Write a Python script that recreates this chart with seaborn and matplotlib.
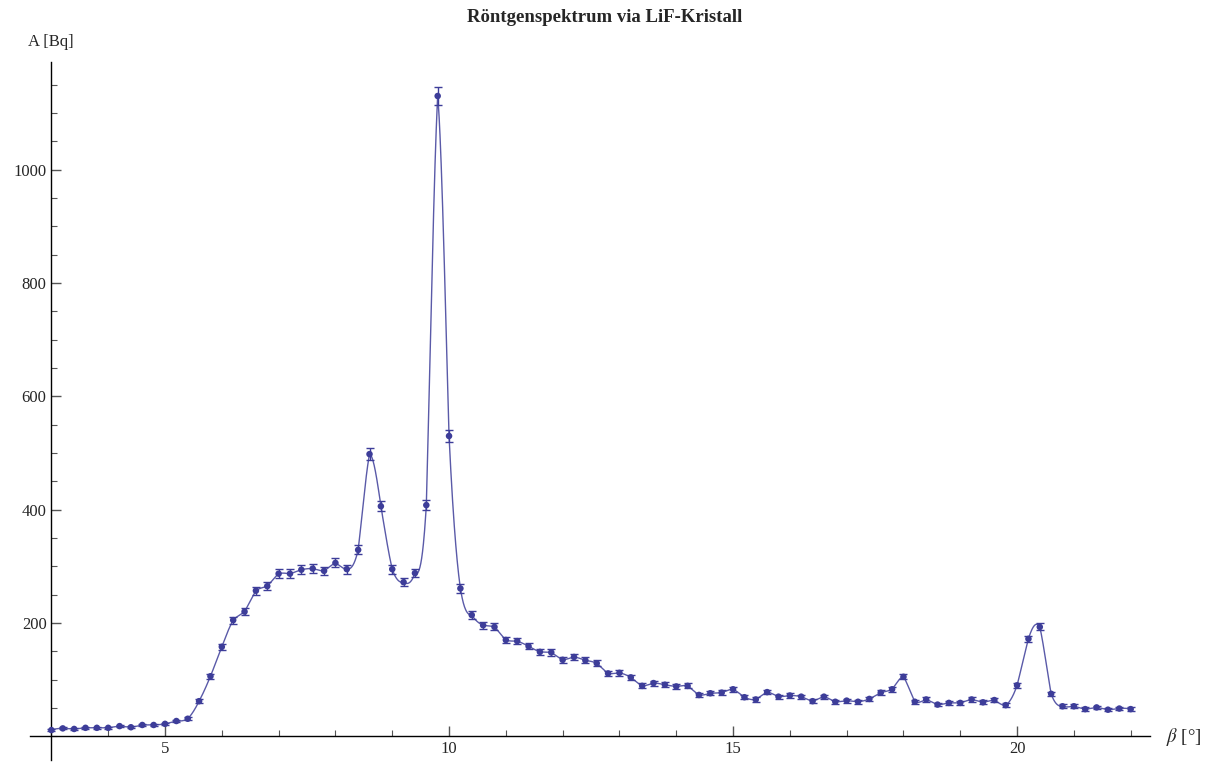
import numpy as np
import pandas as pd
import seaborn as sns
import matplotlib
matplotlib.use("Agg")
import matplotlib.pyplot as plt
from matplotlib.ticker import MultipleLocator

beta = np.round(np.arange(3.0, 22.01, 0.2), 1)
activity = [11, 14, 13, 15, 15, 15, 18, 16, 20, 20,
            22, 27, 31, 62, 106, 158, 205, 220, 257, 265,
            287, 287, 294, 296, 292, 306, 295, 329, 498, 406,
            295, 272, 288, 408, 1130, 530, 261, 214, 196, 193,
            170, 168, 159, 149, 148, 135, 140, 134, 129, 111,
            112, 104, 89, 94, 91, 88, 89, 73, 76, 77,
            83, 69, 65, 78, 70, 72, 70, 62, 70, 61,
            63, 61, 66, 77, 83, 105, 61, 65, 56, 59,
            59, 65, 60, 64, 55, 90, 172, 193, 75, 53,
            53, 48, 51, 47, 49, 48]
gate_time = 5.0  # s, counting uncertainty sqrt(N)/t

df = pd.DataFrame({"beta": beta, "A": activity})
df["dA"] = np.sqrt(df["A"] / gate_time)

# piecewise cubic (4-point Lagrange) through the points, like InterpolationOrder->3
x = df["beta"].to_numpy()
y = df["A"].to_numpy(dtype=float)
n = len(x)
xs_all, ys_all = [], []
for i in range(n - 1):
    j0 = min(max(i - 1, 0), n - 4)
    px, py = x[j0:j0 + 4], y[j0:j0 + 4]
    xs = np.linspace(x[i], x[i + 1], 40)
    ys = np.zeros_like(xs)
    for a in range(4):
        w = np.ones_like(xs)
        for b in range(4):
            if a != b:
                w *= (xs - px[b]) / (px[a] - px[b])
        ys += w * py[a]
    xs_all.append(xs)
    ys_all.append(ys)
curve = pd.DataFrame({"beta": np.concatenate(xs_all), "A": np.concatenate(ys_all)})

sns.set_style("white")
plt.rcParams["font.family"] = ["Liberation Serif", "DejaVu Serif"]
plt.rcParams["mathtext.fontset"] = "stix"
col = "#3d3d99"

fig = plt.figure(figsize=(12.1, 7.63), dpi=100)
ax = fig.add_axes([30 / 1210, 3 / 763, 1120 / 1210, 698 / 763])

sns.lineplot(data=curve, x="beta", y="A", ax=ax, color=col, lw=1.0, alpha=0.85,
             sort=False, estimator=None)
ax.errorbar(df["beta"], df["A"], yerr=df["dA"], fmt="none", ecolor=col,
            elinewidth=1.0, capsize=3, capthick=1.0)
sns.scatterplot(data=df, x="beta", y="A", ax=ax, color=col, s=22,
                edgecolor="none", zorder=3)

ax.set_xlim(2.623, 22.34)
ax.set_ylim(-41.8, 1190)
ax.spines["left"].set_position(("data", 3))
ax.spines["bottom"].set_position(("data", 0))
for s in ["top", "right"]:
    ax.spines[s].set_visible(False)
for s in ["left", "bottom"]:
    ax.spines[s].set_linewidth(1.0)
    ax.spines[s].set_color("black")

ax.xaxis.set_major_locator(MultipleLocator(5))
ax.xaxis.set_minor_locator(MultipleLocator(1))
ax.yaxis.set_major_locator(MultipleLocator(200))
ax.yaxis.set_minor_locator(MultipleLocator(50))
ax.tick_params(which="major", direction="in", length=7, width=1, labelsize=12,
               color="#555555")
ax.tick_params(which="minor", direction="in", length=4, width=0.8, color="#555555")
ax.tick_params(axis="x", which="both", bottom=True)
ax.tick_params(axis="y", which="both", left=True)
ax.set_yticks([200, 400, 600, 800, 1000])
ax.set_xticks([5, 10, 15, 20])
ax.set_xlabel("")
ax.set_ylabel("")

fig.text(0.5, 1 - 18 / 763, "Röntgenspektrum via LiF-Kristall", ha="center",
         va="center", fontsize=13.5, fontweight="bold")
fig.text(28 / 1210, 1 - 42 / 763, "A [Bq]", ha="left", va="center", fontsize=12)
fig.text(1166 / 1210, 1 - 737 / 763, r"$\beta$ [°]", ha="left", va="center",
         fontsize=13.5)

fig.savefig("out.png", dpi=100)
